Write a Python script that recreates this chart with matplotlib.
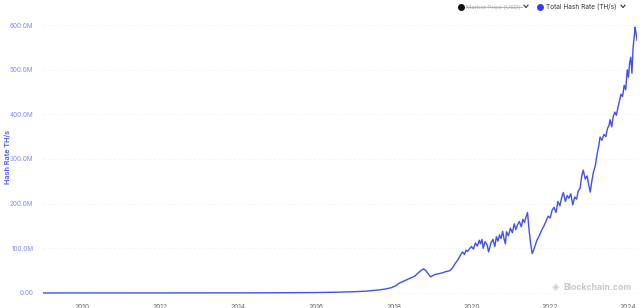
import matplotlib
matplotlib.use("Agg")
import matplotlib.pyplot as plt
from matplotlib.lines import Line2D
from matplotlib.ticker import FuncFormatter

# total hash rate, millions of TH/s
years = [2009.0, 2011.0, 2013.0, 2014.0, 2015.0, 2016.0, 2016.5, 2017.0, 2017.3, 2017.6,
         2017.8, 2017.95, 2018.05, 2018.15, 2018.25, 2018.35, 2018.45, 2018.55, 2018.62, 2018.7,
         2018.77, 2018.82, 2018.88, 2018.95, 2019.05, 2019.15, 2019.25, 2019.35, 2019.45, 2019.52,
         2019.58, 2019.65, 2019.7, 2019.77, 2019.82, 2019.86, 2019.9, 2019.95, 2020.0, 2020.05,
         2020.1, 2020.15, 2020.2, 2020.23, 2020.27, 2020.3, 2020.35, 2020.4, 2020.44, 2020.5,
         2020.55, 2020.6, 2020.64, 2020.68, 2020.72, 2020.76, 2020.8, 2020.84, 2020.87, 2020.9,
         2020.95, 2021.0, 2021.05, 2021.1, 2021.14, 2021.18, 2021.23, 2021.28, 2021.32, 2021.36,
         2021.4, 2021.44, 2021.48, 2021.52, 2021.56, 2021.62, 2021.68, 2021.74, 2021.8, 2021.86,
         2021.92, 2021.97, 2022.02, 2022.07, 2022.12, 2022.17, 2022.22, 2022.27, 2022.32, 2022.36,
         2022.41, 2022.46, 2022.5, 2022.55, 2022.6, 2022.65, 2022.7, 2022.74, 2022.79, 2022.83,
         2022.87, 2022.92, 2022.97, 2023.02, 2023.05, 2023.09, 2023.13, 2023.18, 2023.23, 2023.27,
         2023.3, 2023.35, 2023.4, 2023.45, 2023.49, 2023.53, 2023.56, 2023.6, 2023.64, 2023.68,
         2023.72, 2023.76, 2023.8, 2023.84, 2023.88, 2023.92, 2023.96, 2024.0, 2024.03, 2024.06,
         2024.09, 2024.12, 2024.15, 2024.18, 2024.2, 2024.22, 2024.25]
hash_rate = [0.0, 0.0, 0.01, 0.15, 0.4, 0.9, 1.6, 2.8, 4.0, 6.5,
             9, 12, 16, 22, 26, 30, 34, 38, 44, 50,
             54, 51, 44, 36, 41, 43, 45, 48, 50, 57,
             66, 74, 82, 92, 86, 96, 93, 99, 104, 98,
             112, 105, 118, 110, 120, 100, 115, 108, 92, 112,
             120, 104, 126, 116, 130, 122, 138, 120, 110, 137,
             128, 145, 135, 155, 142, 152, 160, 148, 165, 158,
             170, 180, 140, 110, 88, 102, 118, 128, 140, 150,
             162, 172, 168, 185, 192, 180, 205, 195, 215, 225,
             205, 218, 212, 222, 197, 215, 210, 228, 235, 262,
             275, 255, 262, 238, 226, 250, 270, 285, 313, 330,
             349, 342, 355, 350, 368, 375, 388, 372, 395, 405,
             398, 415, 430, 445, 440, 465, 455, 500, 483, 515,
             528, 492, 550, 575, 595, 585, 566]
assert len(years) == len(hash_rate)

x_ticks = [2010, 2012, 2014, 2016, 2018, 2020, 2022, 2024]
y_ticks = [0, 100, 200, 300, 400, 500, 600]

plt.rcParams['font.family'] = ['Inter', 'DejaVu Sans']

blue = '#3f50f6'
tick_blue = '#7d88ff'

fig = plt.figure(figsize=(6.4, 3.08), dpi=100)
ax = fig.add_axes([43 / 640, 0.0416, 594 / 640, 0.9062])

ax.plot(years, hash_rate, color=blue, lw=1.0)

ax.set_xlim(2009.0, 2024.25)
ax.set_ylim(-5, 620)
ax.set_xticks(x_ticks)
ax.set_yticks(y_ticks)
ax.yaxis.set_major_formatter(FuncFormatter(lambda v, p: '0.00' if v == 0 else f'{v:.1f}M'))
ax.tick_params(axis='y', length=0, labelsize=4.6, labelcolor=tick_blue, pad=7)
ax.tick_params(axis='x', length=0, labelsize=4.8, labelcolor='#666666', pad=6)
ax.grid(axis='y', color='#f4f4f4', lw=0.6, ls=(0, (3, 3)))
for s in ax.spines.values():
    s.set_visible(False)

fig.text(0.012, 1 - 157 / 308, 'Hash Rate TH/s', rotation=90, va='center', ha='center',
         fontsize=5.2, fontweight='bold', color='#5566ff')

# legend across the top
ly = 1 - 7 / 308
fig.add_artist(Line2D([461 / 640], [ly], marker='o', ms=4, color='#111111', transform=fig.transFigure))
fig.text(466 / 640, ly, 'Market Price (USD)', va='center', ha='left', fontsize=4.3, color='#aaaaaa')
fig.add_artist(Line2D([466 / 640, 522 / 640], [ly, ly], lw=0.5, color='#999999', transform=fig.transFigure))
fig.add_artist(Line2D([540 / 640], [ly], marker='o', ms=4, color='#2f3ff2', transform=fig.transFigure))
fig.text(546 / 640, ly, 'Total Hash Rate (TH/s)', va='center', ha='left', fontsize=4.7, color='#333333')
for cx in (526, 623):
    fig.add_artist(Line2D([(cx - 2) / 640, cx / 640, (cx + 2) / 640],
                          [ly + 0.006, ly - 0.002, ly + 0.006], lw=0.8, color='#333333',
                          transform=fig.transFigure))

# watermark
fig.text(556 / 640, 1 - 287 / 308, '◈', va='center', ha='center', fontsize=7, color='#cccccc',
         family='DejaVu Sans')
fig.text(563 / 640, 1 - 287 / 308, 'Blockchain.com', va='center', ha='left', fontsize=6.2,
         color='#c8c8c8', fontweight='bold')

fig.savefig('out.png', dpi=100)
